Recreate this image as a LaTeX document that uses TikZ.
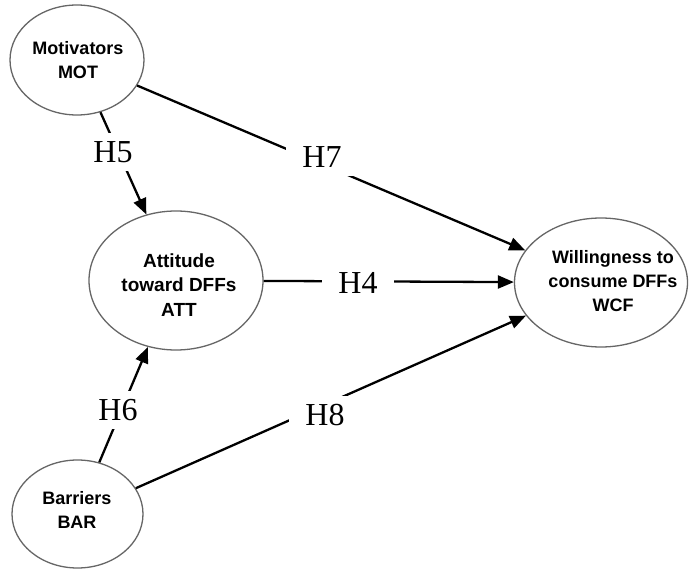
\documentclass[tikz,border=0pt]{standalone}
\usepackage{fontspec}
\setmainfont{Liberation Serif}
\setsansfont{Liberation Sans}
\usetikzlibrary{shapes.geometric,arrows.meta}
\tikzset{
  ell/.style={ellipse,draw=black!60,line width=1.3pt,fill=white,inner sep=0pt},
  txt/.style={align=center,font=\sffamily\bfseries\fontsize{18}{24}\selectfont,inner sep=0pt},
  arr/.style={line width=2.3pt,-{Triangle[length=16pt,width=13pt]}},
  hlab/.style={fill=white,inner xsep=16pt,inner ysep=8.5pt,font=\fontsize{32}{36}\selectfont}
}
\begin{document}
\begin{tikzpicture}[x=1pt,y=-1pt]
\useasboundingbox (0,0) rectangle (696,569);
% ellipses
\node[ell,minimum width=134pt,minimum height=110pt] (mot) at (77,60) {};
\node[ell,minimum width=174pt,minimum height=139pt] (att) at (176,280.5) {};
\node[ell,minimum width=173pt,minimum height=129pt] (wcf) at (601,282.5) {};
\node[ell,minimum width=131pt,minimum height=108pt] (bar) at (77.5,514) {};
% connectors
\draw[arr] (mot) -- (att);
\draw[arr] (bar) -- (att);
\draw[arr] (mot) -- (wcf);
\draw[arr] (att) -- (wcf);
\draw[arr] (bar) -- (wcf);
% texts
\node[txt] (mott) at (78,60) {Motivators\\MOT};
\node[txt,font=\sffamily\bfseries\fontsize{19}{24.5}\selectfont] (attt) at (179,285) {Attitude\\toward DFFs\\ATT};
\node[txt] (wcft) at (613,281) {Willingness to\\consume DFFs\\WCF};
\node[txt] (bart) at (77,510) {Barriers\\BAR};
% hypothesis labels
\node[hlab] (h5) at (113,152) {H5};
\node[hlab] (h6) at (118,410) {H6};
\node[hlab] (h7) at (322,157) {H7};
\node[hlab] (h4) at (358,283) {H4};
\node[hlab] (h8) at (325,415) {H8};
\end{tikzpicture}
\end{document}
